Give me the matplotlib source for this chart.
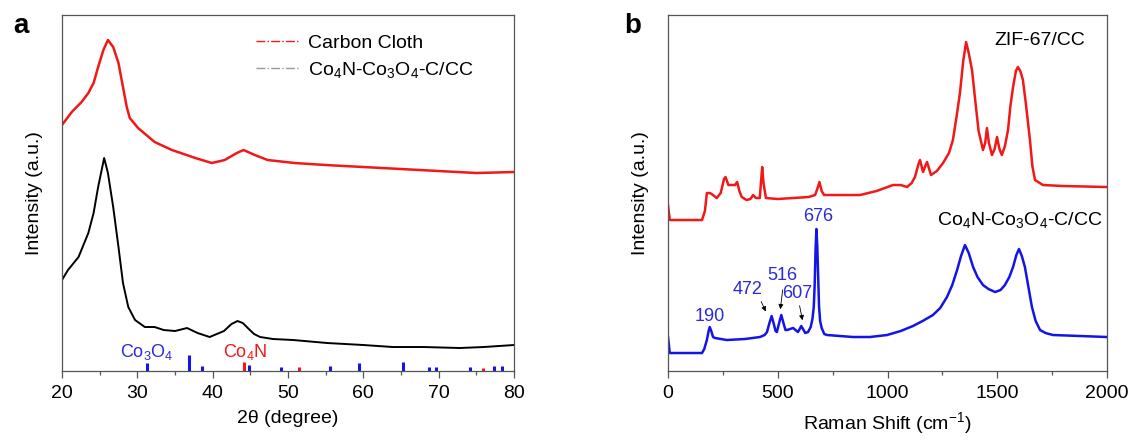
import numpy as np
import matplotlib
matplotlib.use("Agg")
import matplotlib.pyplot as plt
from matplotlib.lines import Line2D

plt.rcParams['font.family'] = ['Liberation Sans', 'DejaVu Sans']
plt.rcParams['mathtext.fontset'] = 'custom'
plt.rcParams['mathtext.rm'] = 'Liberation Sans'
plt.rcParams['mathtext.it'] = 'Liberation Sans:italic'

# XRD, carbon cloth (2theta, counts a.u.)
xrd_cc_x = [20.0, 21.3, 22.6, 23.5, 24.2, 24.8, 25.5, 26.1, 26.8, 27.5, 28.1, 28.6,
            29.0, 30.1, 32.3, 34.6, 37.7, 39.9, 41.6, 43.2, 44.1, 45.6, 47.3, 50.9,
            55.0, 60.0, 65.0, 70.0, 75.0, 80.0]
xrd_cc_y = [246, 259, 269, 278, 288, 304, 321, 331, 324, 308, 284, 264,
            253, 243, 229, 221, 213, 208, 211, 218, 221, 216, 211, 208,
            206, 204, 202, 200, 198, 199]

# XRD, Co4N-Co3O4-C/CC
xrd_co_x = [20.0, 20.8, 22.2, 23.5, 24.2, 24.8, 25.6, 26.1, 26.8, 27.5, 28.1, 28.8,
            29.7, 31.0, 32.3, 33.5, 35.0, 36.6, 38.0, 39.6, 41.5, 42.5, 43.3, 44.0,
            44.8, 45.5, 46.3, 48.0, 50.7, 55.2, 60.0, 63.9, 68.0, 72.8, 76.0, 80.0]
xrd_co_y = [91, 101, 114, 138, 158, 184, 213, 198, 164, 124, 88, 64,
            51, 44, 44, 41, 40, 43, 38, 34, 40, 47, 50, 48,
            42, 37, 34, 32, 31, 28, 26, 24, 24, 23, 24, 26]

# standard patterns
co3o4_pos = [31.3, 36.8, 38.6, 44.8, 49.1, 55.6, 59.4, 65.2, 68.7, 69.7, 74.2, 77.3, 78.4]
co3o4_int = [8, 16, 5, 6, 4, 5, 8, 9, 4, 4, 4, 5, 5]
co4n_pos = [44.2, 51.5, 75.9]
co4n_int = [9, 4, 3]

# Raman, ZIF-67/CC
ram_zif_x = [0, 8, 20, 100, 155, 168, 177, 191, 205, 222, 240, 255, 262, 275, 290,
             305, 315, 325, 336, 358, 375, 388, 400, 418, 424, 429, 435, 446, 500,
             570, 640, 670, 680, 690, 700, 711, 800, 875, 950, 1025, 1060, 1089,
             1110, 1125, 1140, 1148, 1155, 1162, 1170, 1180, 1190, 1198, 1225, 1253,
             1280, 1298, 1315, 1330, 1345, 1358, 1370, 1385, 1400, 1415, 1435, 1445,
             1453, 1462, 1476, 1488, 1499, 1510, 1521, 1535, 1549, 1560, 1572, 1585,
             1594, 1605, 1617, 1630, 1649, 1660, 1672, 1708, 1800, 2000]
ram_zif_y = [166, 151, 151, 151, 151, 160, 178, 178, 176, 173, 178, 192, 194, 186, 186,
             186, 189, 180, 174, 171, 172, 176, 173, 173, 190, 204, 188, 173, 172,
             173, 174, 176, 182, 189, 180, 176, 176, 176, 180, 186, 186, 184,
             188, 194, 206, 211, 205, 199, 204, 209, 202, 196, 200, 208,
             218, 231, 255, 278, 310, 329, 318, 301, 270, 240, 221, 228,
             243, 228, 216, 222, 234, 222, 216, 225, 241, 265, 284, 300,
             304, 300, 291, 268, 231, 205, 191, 186, 185, 184]

# Raman, Co4N-Co3O4-C/CC
ram_co_x = [0, 8, 20, 155, 165, 177, 185, 190, 197, 205, 214, 268, 350, 419, 440, 451,
            462, 472, 482, 490, 496, 505, 516, 526, 535, 542, 570, 592, 600, 607, 615,
            625, 638, 650, 658, 664, 668, 672, 676, 680, 684, 688, 693, 700, 712, 724,
            843, 920, 998, 1060, 1116, 1160, 1207, 1240, 1271, 1295, 1317, 1335, 1353,
            1370, 1390, 1410, 1435, 1460, 1490, 1515, 1535, 1555, 1572, 1587, 1599,
            1612, 1626, 1642, 1658, 1675, 1695, 1720, 1754, 2000]
ram_co_y = [34, 18, 18, 18, 22, 31, 40, 44, 40, 34, 33, 31, 32, 34, 36, 39,
            48, 55, 47, 40, 39, 47, 56, 48, 41, 41, 43, 39, 42, 45, 42,
            38, 39, 44, 52, 64, 85, 120, 142, 125, 95, 65, 50, 43, 37, 36,
            34, 34, 36, 40, 45, 50, 56, 63, 74, 86, 101, 115, 126,
            118, 104, 94, 86, 82, 79, 81, 86, 94, 104, 116, 122,
            115, 104, 84, 64, 50, 41, 38, 36, 34]

peak_labels = [190, 472, 516, 607, 676]

red = '#f01818'
blue = '#1414e6'
txt_blue = '#2a2ad8'
spine_c = '#555555'

fig = plt.figure(figsize=(11.39, 4.43), dpi=100)
ax1 = fig.add_axes([0.0544, 0.1625, 0.3969, 0.8036])
ax2 = fig.add_axes([0.5865, 0.1625, 0.3854, 0.8036])

for ax in (ax1, ax2):
    for s in ax.spines.values():
        s.set_color(spine_c)
        s.set_linewidth(0.9)
    ax.set_yticks([])
    ax.tick_params(axis='x', direction='out', length=5, width=0.9, color=spine_c,
                   labelsize=14, pad=5)
    ax.tick_params(axis='x', which='minor', direction='out', length=3, width=0.9,
                   color=spine_c)
    ax.set_ylabel('Intensity (a.u.)', fontsize=14, labelpad=14)

# panel a: XRD
ax1.plot(xrd_cc_x, xrd_cc_y, color=red, lw=1.8)
ax1.plot(xrd_co_x, xrd_co_y, color='k', lw=1.4)
ax1.vlines(co3o4_pos, 0, co3o4_int, color=blue, lw=2.2)
ax1.vlines(co4n_pos, 0, co4n_int, color=red, lw=2.2)
ax1.text(31.3, 19, r'Co$_3$O$_4$', color=txt_blue, fontsize=13, ha='center', va='center')
ax1.text(44.3, 19, r'Co$_4$N', color=red, fontsize=13, ha='center', va='center')
ax1.set_xlim(20, 80)
ax1.set_ylim(0, 356)
ax1.set_xticks(np.arange(20, 81, 10))
ax1.set_xticks(np.arange(25, 80, 10), minor=True)
ax1.set_xlabel('2θ (degree)', fontsize=14, labelpad=6)

handles = [Line2D([], [], color=red, lw=1.0, ls='-.'),
           Line2D([], [], color='0.6', lw=1.0, ls='-.')]
ax1.legend(handles, ['Carbon Cloth', r'Co$_4$N-Co$_3$O$_4$-C/CC'],
           loc='upper right', bbox_to_anchor=(0.95, 0.995), frameon=False,
           fontsize=14, handlelength=2.2, handletextpad=0.5, labelspacing=0.4)

# panel b: Raman
ax2.plot(ram_zif_x, ram_zif_y, color=red, lw=1.8)
ax2.plot(ram_co_x, ram_co_y, color=blue, lw=1.8)
ax2.set_xlim(0, 2000)
ax2.set_ylim(0, 356)
ax2.set_xticks(np.arange(0, 2001, 500))
ax2.set_xticks(np.arange(250, 2000, 500), minor=True)
ax2.set_xlabel(r'Raman Shift (cm$^{-1}$)', fontsize=14, labelpad=6)
ax2.text(1695, 331, 'ZIF-67/CC', fontsize=14, ha='center', va='center')
ax2.text(1604, 151, r'Co$_4$N-Co$_3$O$_4$-C/CC', fontsize=14, ha='center', va='center')

# peak labels, some with arrows
lab_pos = {190: (191, 55), 472: (364, 82), 516: (519, 96), 607: (588, 78), 676: (683, 155)}
arrows = {472: ((419, 72), (451, 57)), 516: ((524, 84), (510, 59)),
          607: ((597, 68), (615, 48))}
for p in peak_labels:
    x, y = lab_pos[p]
    ax2.text(x, y, str(p), color=txt_blue, fontsize=13, ha='center', va='center')
    if p in arrows:
        (x0, y0), (x1, y1) = arrows[p]
        ax2.annotate('', xy=(x1, y1), xytext=(x0, y0),
                     arrowprops=dict(arrowstyle='-|>', color='k', lw=0.6,
                                     mutation_scale=7))

fig.text(0.012, 0.925, 'a', fontsize=20, fontweight='bold')
fig.text(0.548, 0.925, 'b', fontsize=20, fontweight='bold')

fig.savefig('out.png', dpi=100)
